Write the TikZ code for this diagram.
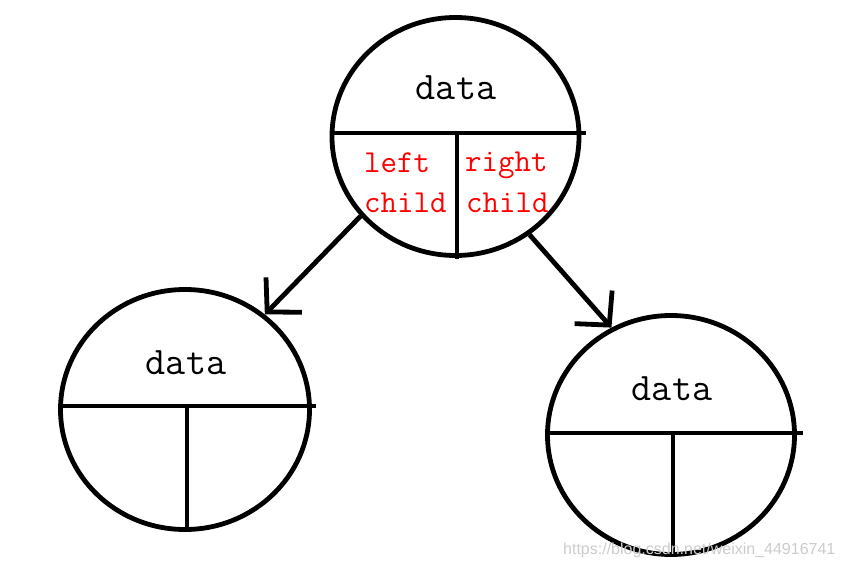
\documentclass[tikz,border=0pt]{standalone}
\usepackage{fontspec}
\newfontfamily\wmfont{Liberation Sans}
\usetikzlibrary{shapes.geometric,arrows.meta}
\tikzset{
  treenode/.style={ellipse, draw, line width=4.8pt, inner sep=0pt},
  divline/.style={line width=4.8pt},
  datatext/.style={font=\ttfamily\fontsize{39}{39}\selectfont, anchor=base, inner sep=0pt},
  childtext/.style={font=\ttfamily\fontsize{32}{32}\selectfont, text=red, anchor=base west, inner sep=0pt},
  link/.style={line width=4.8pt, -{Straight Barb[length=24pt,width=50pt]}},
  watermark/.style={font=\wmfont\fontsize{16}{16}\selectfont, text=black!20, inner sep=0pt}
}
\begin{document}
\begin{tikzpicture}[x=1pt,y=-1pt]
\useasboundingbox[fill=white] (0,0) rectangle (841,569);
% nodes (circles)
\node[treenode, minimum width=247pt, minimum height=238pt] (top) at (455.5,136.5) {};
\node[treenode, minimum width=249pt, minimum height=240pt] (lc) at (185,409.5) {};
\node[treenode, minimum width=247pt, minimum height=239pt] (rc) at (671,435) {};
% division lines
\draw[divline] (330,133) -- (586,133);
\draw[divline] (457,133) -- (457,259);
\draw[divline] (58,406) -- (316,406);
\draw[divline] (187,406) -- (187,532);
\draw[divline] (545,433) -- (803,433);
\draw[divline] (673,433) -- (673,557);
% texts
\node[datatext] (d1) at (456,100) {data};
\node[datatext] (d2) at (186,374) {data};
\node[datatext] (d3) at (672,400) {data};
\node[childtext] (l1) at (364,173) {left};
\node[childtext] (l2) at (364,213) {child};
\node[childtext] (r1) at (465,172) {right};
\node[childtext] (r2) at (466,213) {child};
% connectors
\draw[link] (top.220) -- (lc.50);
\draw[link] (top.307.7) -- (rc.119.7);
% watermark
\node[watermark, anchor=west] (wm) at (563,550) {https://blog.csdn.net/weixin\_44916741};
\end{tikzpicture}
\end{document}
